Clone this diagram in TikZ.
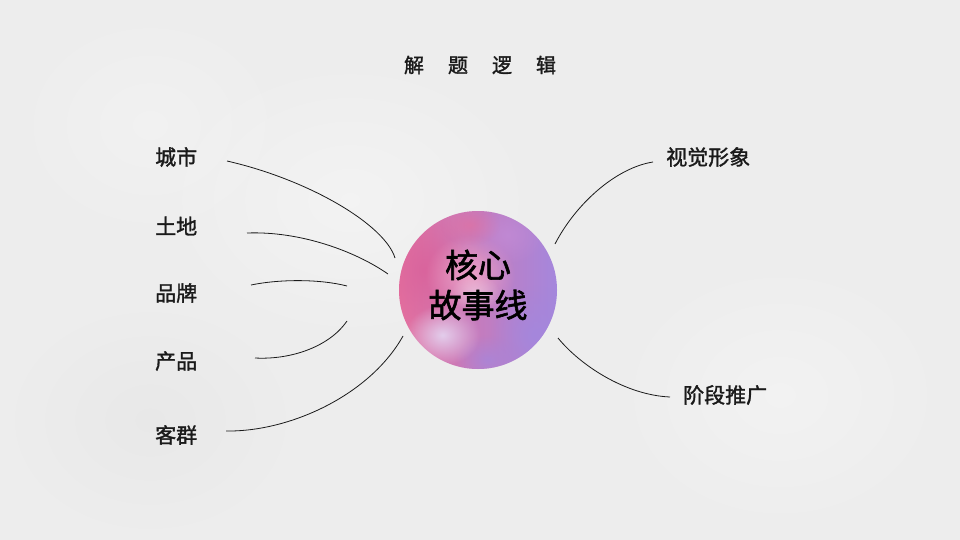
\documentclass[tikz,border=0pt]{standalone}
\usepackage{fontspec}
\newfontfamily\cjk[FakeBold=1.5]{Noto Sans CJK SC}
\newfontfamily\cjkcore[FakeBold=1.8]{Noto Sans CJK SC}
\usetikzlibrary{fadings}
\tikzfading[name=blobfade, inner color=transparent!0, outer color=transparent!100]
\definecolor{bgA}{HTML}{EDEDED}
\definecolor{pinkA}{HTML}{E5709E}
\definecolor{pinkB}{HTML}{F0A6C8}
\definecolor{pinkC}{HTML}{D9609A}
\definecolor{purpA}{HTML}{A487DD}
\definecolor{purpB}{HTML}{C28BD6}
\definecolor{lavA}{HTML}{E6DCF6}
\definecolor{inkA}{HTML}{1A1A1A}
\tikzset{
  branch/.style={line width=0.8pt, draw=inkA},
  leaf/.style={font=\cjk\fontsize{21pt}{24pt}\selectfont, text=inkA, inner sep=0pt},
  titletext/.style={font=\cjk\fontsize{20pt}{24pt}\selectfont, text=inkA, inner sep=0pt},
  coretext/.style={font=\cjkcore\fontsize{33pt}{40pt}\selectfont, text=black, align=center, inner sep=0pt},
}
\begin{document}
\begin{tikzpicture}[x=1pt,y=-1pt]
\useasboundingbox (0,0) rectangle (960,540);
% background
\fill[bgA] (0,0) rectangle (960,540);
\fill[white, opacity=0.35, path fading=blobfade] (150,50) rectangle (550,350);
\fill[white, opacity=0.3, path fading=blobfade] (600,250) rectangle (960,540);
\fill[white, opacity=0.25, path fading=blobfade] (0,0) rectangle (300,250);
\fill[black, opacity=0.02, path fading=blobfade] (0,300) rectangle (300,540);

% core circle
\coordinate (corec) at (478,290);
\begin{scope}
\clip (corec) circle (79pt);
\shade[left color=pinkA, right color=purpA] (398,210) rectangle (558,370);
\fill[pinkC, opacity=0.8, path fading=blobfade] (380,210) rectangle (470,330);
\fill[pinkB, opacity=0.9, path fading=blobfade] (425,235) rectangle (515,315);
\fill[purpB, opacity=0.8, path fading=blobfade] (470,205) rectangle (545,265);
\fill[pinkA, opacity=0.6, path fading=blobfade] (440,205) rectangle (500,245);
\fill[purpA, opacity=0.9, path fading=blobfade] (490,285) rectangle (580,385);
\fill[purpA, opacity=0.7, path fading=blobfade] (455,335) rectangle (520,385);
\fill[lavA, opacity=0.85, path fading=blobfade] (405,305) rectangle (480,365);
\fill[white, opacity=0.35, path fading=blobfade] (450,275) rectangle (500,310);
\end{scope}
\node[circle, minimum size=158pt, inner sep=0pt] (core) at (corec) {};
\node[coretext] (coretitle) at (478,285) {核心\\故事线};

% title
\node[titletext] (title) at (480,65) {解\hspace{24pt}题\hspace{24pt}逻\hspace{24pt}辑};

% left labels
\node[leaf, anchor=west] (city) at (155,157) {城市};
\node[leaf, anchor=west] (land) at (155,226) {土地};
\node[leaf, anchor=west] (brand) at (155,293) {品牌};
\node[leaf, anchor=west] (product) at (155,361) {产品};
\node[leaf, anchor=west] (client) at (155,435) {客群};
% right labels
\node[leaf, anchor=west] (visual) at (666,157) {视觉形象};
\node[leaf, anchor=west] (promo) at (683,395) {阶段推广};

% connector end points
\coordinate (cityS) at (227,161);
\coordinate (cityE) at (395,258);
\coordinate (landS) at (247,233);
\coordinate (landE) at (388,274);
\coordinate (brandS) at (251,285);
\coordinate (brandE) at (347,286);
\coordinate (prodS) at (255,358);
\coordinate (prodE) at (347,321);
\coordinate (clientS) at (226,431);
\coordinate (clientE) at (403,336);
\coordinate (visS) at (555,244);
\coordinate (visE) at (653,162);
\coordinate (promoS) at (558,338);
\coordinate (promoE) at (670,397);

\draw[branch] (cityS) .. controls (310,180) and (385,225) .. (cityE);
\draw[branch] (landS) .. controls (300,231) and (355,251) .. (landE);
\draw[branch] (brandS) .. controls (280,279) and (320,279) .. (brandE);
\draw[branch] (prodS) .. controls (292,360) and (330,346) .. (prodE);
\draw[branch] (clientS) .. controls (290,432) and (370,395) .. (clientE);
\draw[branch] (visS) .. controls (575,205) and (615,168) .. (visE);
\draw[branch] (promoS) .. controls (580,365) and (625,395) .. (promoE);
\end{tikzpicture}
\end{document}
